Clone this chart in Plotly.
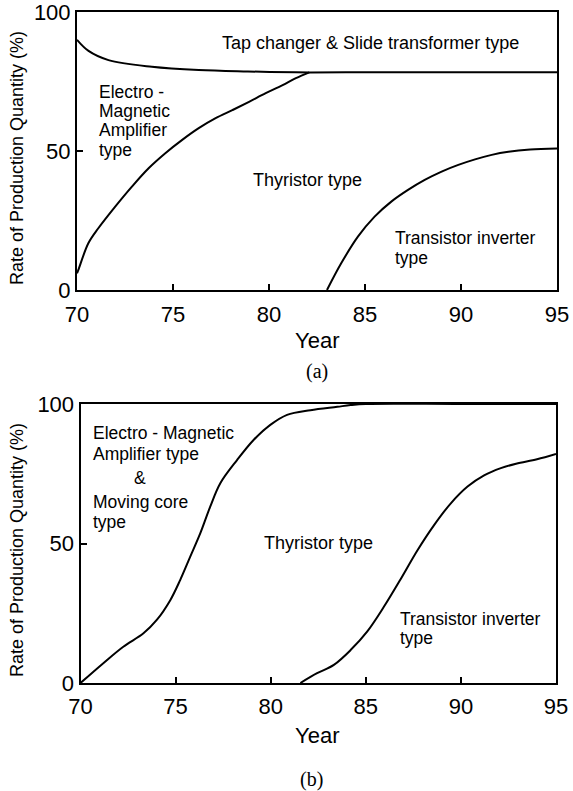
import plotly.graph_objects as go

W, H = 573, 791

# ---------------- data: chart (a) ----------------
a_tap_x = [70.0, 70.6, 71.64, 73.9, 76.34, 78.9, 81.4, 84.0, 88.0, 95.0]
a_tap_y = [90.0, 86.0, 82.7, 80.3, 79.1, 78.6, 78.3, 78.3, 78.3, 78.3]

a_thy_x = [70.0, 70.07, 70.59, 71.11, 71.99, 72.86, 73.73, 74.60, 75.48, 76.34, 77.22, 78.09, 78.96, 79.83, 80.71, 81.40, 82.1]
a_thy_y = [6.0, 7.2, 16.8, 22.2, 30.0, 37.2, 43.8, 49.2, 54.0, 58.2, 61.8, 64.7, 67.7, 70.8, 73.7, 76.2, 78.3]

a_tr_x = [83.02, 83.76, 84.63, 85.50, 86.37, 87.24, 88.11, 88.99, 89.86, 90.73, 91.60, 92.47, 93.6, 95.0]
a_tr_y = [0.0, 9.6, 19.2, 26.4, 31.8, 36.0, 39.6, 42.6, 45.0, 47.0, 48.6, 49.7, 50.5, 50.9]

# ---------------- data: chart (b) ----------------
b_thy_x = [70.0, 71.2, 72.25, 73.31, 74.01, 74.72, 75.24, 75.77, 76.30, 76.82, 77.35, 78.23, 79.1, 79.98, 80.86, 82.09, 83.5, 84.2, 85.0, 90.0, 95.0]
b_thy_y = [0.0, 7.1, 13.0, 17.8, 22.6, 29.7, 36.9, 45.3, 53.7, 63.2, 71.6, 79.9, 87.1, 92.5, 96.1, 97.8, 99.0, 99.6, 100, 100, 100]

b_tr_x = [81.56, 82.44, 83.32, 84.20, 85.08, 85.95, 86.83, 87.71, 88.59, 89.47, 90.35, 91.22, 92.1, 92.9, 94.0, 95.0]
b_tr_y = [0.0, 3.5, 6.5, 11.8, 18.5, 27.3, 37.2, 47.5, 56.6, 64.4, 70.4, 74.4, 77.0, 78.6, 80.2, 82.1]

x_ticks = [70, 75, 80, 85, 90, 95]
y_ticks = [0, 50, 100]

FONT = "Liberation Sans"
line = dict(color="black", width=2, shape="spline", smoothing=1.0)

fig = go.Figure()
fig.add_trace(go.Scatter(x=a_tap_x, y=a_tap_y, mode="lines", line=line, xaxis="x", yaxis="y"))
fig.add_trace(go.Scatter(x=a_thy_x, y=a_thy_y, mode="lines", line=line, xaxis="x", yaxis="y"))
fig.add_trace(go.Scatter(x=a_tr_x, y=a_tr_y, mode="lines", line=line, xaxis="x", yaxis="y"))
fig.add_trace(go.Scatter(x=b_thy_x, y=b_thy_y, mode="lines", line=line, xaxis="x2", yaxis="y2"))
fig.add_trace(go.Scatter(x=b_tr_x, y=b_tr_y, mode="lines", line=line, xaxis="x2", yaxis="y2"))

def px(p):
    return p / W

def py(p):
    return 1 - p / H

ax_common = dict(showline=True, mirror=True, linecolor="black", linewidth=2,
                 ticks="inside", ticklen=6, tickwidth=1.5, tickcolor="black",
                 showgrid=False, zeroline=False, automargin=False,
                 ticklabeloverflow="allow",
                 tickfont=dict(family=FONT, size=22, color="black"))

fig.update_layout(
    width=W, height=H,
    margin=dict(l=0, r=0, t=0, b=0),
    paper_bgcolor="white", plot_bgcolor="white",
    showlegend=False,
    xaxis=dict(domain=[px(77), px(557)], range=[70, 95], tickvals=x_ticks, anchor="y",
               ticklabelstandoff=4, **ax_common),
    yaxis=dict(domain=[py(290), py(12)], range=[0, 100], tickvals=y_ticks, anchor="x", **ax_common),
    xaxis2=dict(domain=[px(80.5), px(556)], range=[70, 95], tickvals=x_ticks, anchor="y2",
                ticklabelstandoff=3, **ax_common),
    yaxis2=dict(domain=[py(683), py(404)], range=[0, 100], tickvals=y_ticks, anchor="x2", **ax_common),
)

ann = []
def txt(x, y, s, xref, yref, xanchor="left", size=17.5, family=FONT, angle=0):
    ann.append(dict(x=x, y=y, text=s, xref=xref, yref=yref, xanchor=xanchor, yanchor="middle",
                    showarrow=False, textangle=angle,
                    font=dict(family=family, size=size, color="black")))

# chart (a) labels
txt(85.3, 88.8, "Tap changer &amp; Slide transformer type", "x", "y", "center", size=18)
txt(71.06, 71.4, "Electro -", "x", "y")
txt(71.06, 64.4, "Magnetic", "x", "y")
txt(71.06, 57.4, "Amplifier", "x", "y")
txt(71.06, 50.4, "type", "x", "y")
txt(82.01, 39.6, "Thyristor type", "x", "y", "center", size=18)
txt(86.44, 18.7, "Transistor inverter", "x", "y")
txt(86.44, 11.5, "type", "x", "y")

# chart (b) labels
txt(70.54, 89.6, "Electro - Magnetic", "x2", "y2")
txt(70.54, 82.2, "Amplifier type", "x2", "y2")
txt(73.13, 73.4, "&amp;", "x2", "y2", "center")
txt(70.54, 65.0, "Moving core", "x2", "y2")
txt(70.54, 57.8, "type", "x2", "y2")
txt(82.5, 50.2, "Thyristor type", "x2", "y2", "center", size=18)
txt(86.7, 22.9, "Transistor inverter", "x2", "y2")
txt(86.7, 16.1, "type", "x2", "y2")

# axis titles and captions
txt(px(317), py(340), "Year", "paper", "paper", "center", size=22)
txt(px(317), py(735), "Year", "paper", "paper", "center", size=22)
txt(px(17), py(158), "Rate of Production Quantity (%)", "paper", "paper", "center", size=18, angle=-90)
txt(px(17), py(550), "Rate of Production Quantity (%)", "paper", "paper", "center", size=18, angle=-90)
txt(px(317), py(371), "(a)", "paper", "paper", "center", size=20, family="Liberation Serif")
txt(px(311), py(779), "(b)", "paper", "paper", "center", size=20, family="Liberation Serif")

fig.update_layout(annotations=ann)
fig.write_html("out.html")
